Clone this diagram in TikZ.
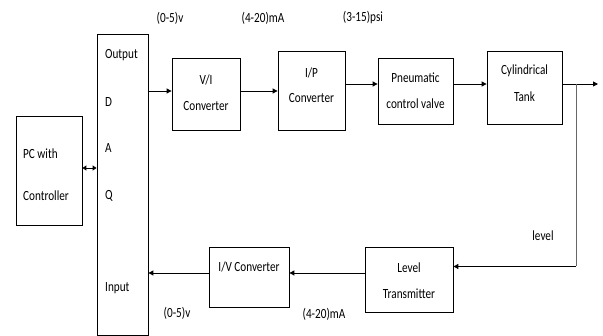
\documentclass[tikz,border=0pt]{standalone}
\usepackage{fontspec}
\setmainfont{Carlito}[FakeStretch=0.8]
\usetikzlibrary{arrows.meta}
\begin{document}
\begin{tikzpicture}[x=1pt,y=-1pt,
  box/.style={draw,line width=0.8pt,inner sep=0pt,align=center},
  lbl/.style={font=\fontsize{14}{16}\selectfont,inner sep=0pt},
  arr/.style={line width=0.9pt,-{Triangle[length=5pt,width=5pt]}},
  ln/.style={line width=0.9pt}]
\useasboundingbox (0,0) rectangle (603,336);
% boxes
\node[box,minimum width=66pt,minimum height=109pt] (pc) at (49,170.5) {};
\node[lbl,anchor=west] (pct1) at (23,154) {PC with};
\node[lbl,anchor=west] (pct2) at (23,196) {Controller};
\node[box,minimum width=51pt,minimum height=301pt] (daq) at (122.5,184.5) {};
\node[lbl,anchor=west] (t1) at (105,55) {Output};
\node[lbl,anchor=west] (t2) at (105,102) {D};
\node[lbl,anchor=west] (t3) at (105,148) {A};
\node[lbl,anchor=west] (t4) at (105,196) {Q};
\node[lbl,anchor=west] (t5) at (105,288) {Input};
\node[box,minimum width=68pt,minimum height=72pt] (vi) at (206,94) {};
\node[lbl] (vit1) at (206,80) {V/I};
\node[lbl] (vit2) at (206,106) {Converter};
\node[box,minimum width=67pt,minimum height=79pt] (ip) at (311.5,90.5) {};
\node[lbl] (ipt1) at (311.5,73) {I/P};
\node[lbl] (ipt2) at (311.5,98) {Converter};
\node[box,minimum width=75pt,minimum height=66pt] (pcv) at (415.5,91) {};
\node[lbl] (pcvt1) at (415.5,78) {Pneumatic};
\node[lbl] (pcvt2) at (415.5,104) {control valve};
\node[box,minimum width=75pt,minimum height=73pt] (tank) at (524.5,87.5) {};
\node[lbl] (tt1) at (524.5,71) {Cylindrical};
\node[lbl] (tt2) at (524.5,97) {Tank};
\node[box,minimum width=88pt,minimum height=65pt] (lt) at (409,279.5) {};
\node[lbl] (ltt1) at (409,268) {Level};
\node[lbl] (ltt2) at (409,294) {Transmitter};
\node[box,minimum width=80pt,minimum height=60pt] (iv) at (249,277) {};
\node[lbl] (ivt) at (249,267) {I/V Converter};
% labels
\node[lbl] (l1) at (170,18) {(0-5)v};
\node[lbl] (l2) at (263,18) {(4-20)mA};
\node[lbl] (l3) at (363,18) {(3-15)psi};
\node[lbl] (l4) at (543,236) {level};
\node[lbl] (l5) at (177,313) {(0-5)v};
\node[lbl] (l6) at (324,314) {(4-20)mA};
% connectors
\draw[line width=0.9pt,{Triangle[length=4pt,width=5pt]}-{Triangle[length=4pt,width=5pt]}] (pc.east |- 0,168) -- (daq.west |- 0,168);
\draw[arr] (daq.east |- 0,91) -- (vi.west |- 0,91);
\draw[arr] (vi.east |- 0,91) -- (ip.west |- 0,91);
\draw[arr] (ip.east |- 0,84) -- (pcv.west |- 0,84);
\draw[arr] (pcv.east |- 0,84) -- (tank.west |- 0,84);
\coordinate (out) at (598,84);
\coordinate (tap) at (576,84);
\draw[arr] (tank.east |- out) -- (out);
\draw[ln,draw=black!60] (tap) -- (576,266.5);
\draw[arr] (576,266.5) -- (lt.east |- 0,266.5);
\draw[arr] (lt.west |- 0,273) -- (iv.east |- 0,273);
\draw[arr] (iv.west |- 0,273) -- (daq.east |- 0,273);
\end{tikzpicture}
\end{document}
